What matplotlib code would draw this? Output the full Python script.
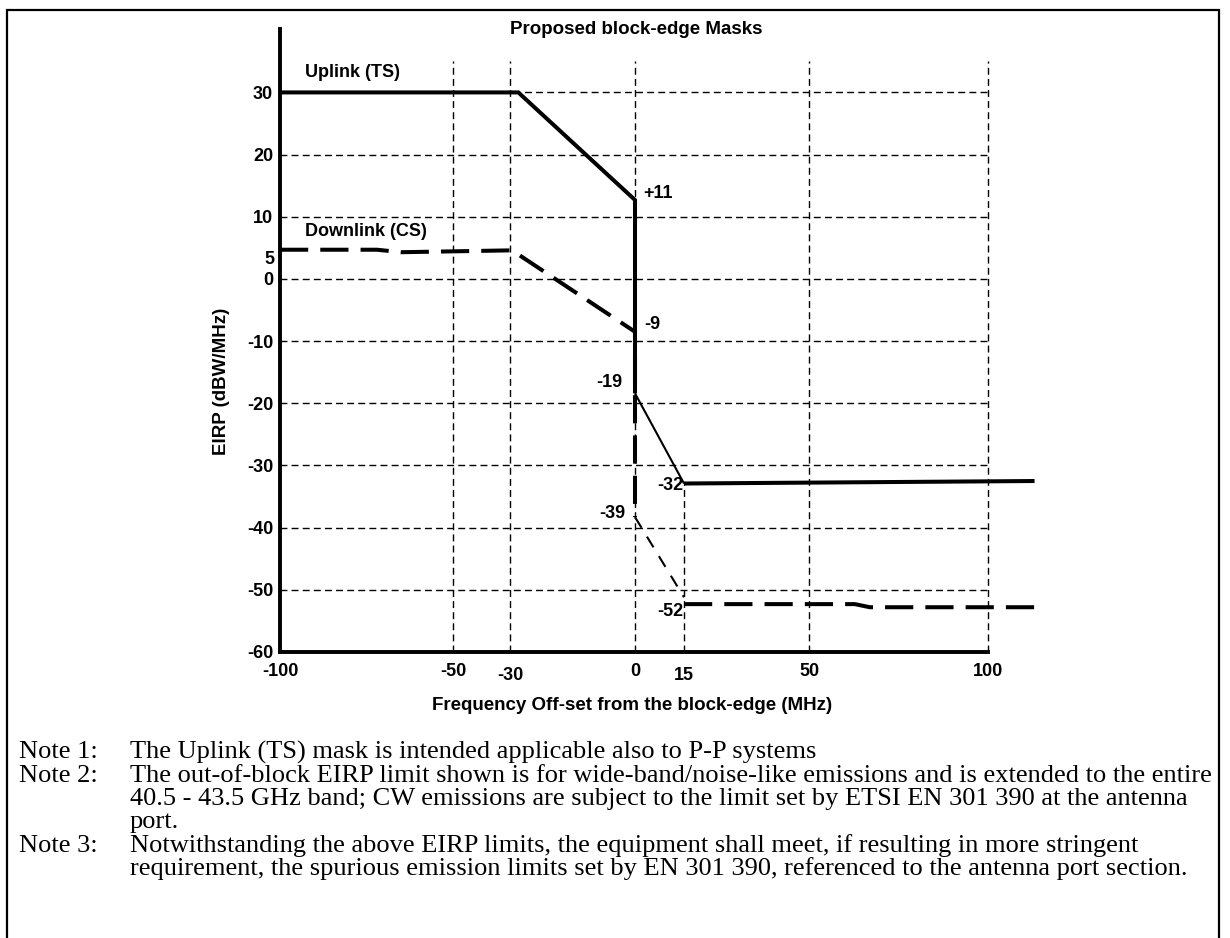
import numpy as np
import matplotlib
matplotlib.use("Agg")
import matplotlib.pyplot as plt
from matplotlib.patches import Rectangle
from matplotlib.transforms import ScaledTranslation

# ---------------- data ----------------
uplink_f = [-100, -28, 0, 0, 15, 113]
uplink_v = [30, 30, 12.7, -18.4, -32.9, -32.5]

downlink_f = [-100, -72, -65, -29.5, 0, 0, 15, 15, 62.8, 67, 113]
downlink_v = [4.7, 4.7, 4.3, 4.6, -8.5, -38.3, -51.2, -52.3, -52.3, -52.8, -52.8]

x_ticks = [-100, -50, -30, 0, 15, 50, 100]
y_ticks = [-60, -50, -40, -30, -20, -10, 0, 10, 20, 30]
v_grid = [-50, -30, 0, 50, 100]
h_grid = [30, 20, 10, 0, -10, -20, -30, -40, -50]

point_labels = ["+11", "-9", "-19", "-32", "-39", "-52", "5"]

title = "Proposed block-edge Masks"
xlabel = "Frequency Off-set from the block-edge (MHz)"
ylabel = "EIRP (dBW/MHz)"
notes = [
    ("Note 1:", "The Uplink (TS) mask is intended applicable also to P-P systems"),
    ("Note 2:", "The out-of-block EIRP limit shown is for wide-band/noise-like emissions and is extended to the entire"),
    ("", "40.5 - 43.5 GHz band; CW emissions are subject to the limit set by ETSI EN 301 390 at the antenna"),
    ("", "port."),
    ("Note 3:", "Notwithstanding the above EIRP limits, the equipment shall meet, if resulting in more stringent"),
    ("", "requirement, the spurious emission limits set by EN 301 390, referenced to the antenna port section."),
]

# ---------------- styles / layout ----------------
SANS = ["Liberation Sans", "DejaVu Sans"]
SERIF = ["Liberation Serif", "DejaVu Serif"]
W, H = 1230, 938
fig = plt.figure(figsize=(W / 100, H / 100), dpi=100)

# non-uniform drawing scale of the original figure (anchor values -> pixel)
_sv = np.array([-1e4, -100, -50, -30, 0, 15, 50, 100, 1e4])
_sp = np.array([280 - 9900 * 3.46, 280, 453, 510, 635, 684, 809, 988, 988 + 9900 * 3.58])
fwd = lambda x: np.interp(x, _sv, _sp)
inv = lambda p: np.interp(p, _sp, _sv)

xmin, xmax = -100, 114
ymin, ymax = -60, 40.2
px_left, px_right = 280, fwd(xmax)
px_top, px_bot = 29, 652
ax = fig.add_axes([px_left / W, (H - px_bot) / H, (px_right - px_left) / W, (px_bot - px_top) / H])
ax.set_xscale("function", functions=(fwd, inv))
ax.set_xlim(xmin, xmax)
ax.set_ylim(ymin, ymax)
ax.patch.set_alpha(0)

for s in ["top", "right"]:
    ax.spines[s].set_visible(False)
ax.spines["left"].set_linewidth(2.8)
ax.spines["bottom"].set_linewidth(2.8)
ax.spines["left"].set_bounds(-60, ymax)
ax.spines["bottom"].set_bounds(-100, 100)

FS = 13
ax.set_xticks(x_ticks)
ax.set_xticklabels([str(t) for t in x_ticks])
ax.set_yticks(y_ticks)
ax.set_yticklabels([str(t) for t in y_ticks])
ax.tick_params(axis="x", length=0, pad=8)
ax.tick_params(axis="y", length=0, pad=5)
for lab in ax.get_xticklabels() + ax.get_yticklabels():
    lab.set_fontfamily(SANS)
    lab.set_fontweight("bold")
    lab.set_fontsize(FS)
for lab in ax.get_xticklabels():
    if lab.get_text() in ("-30", "15"):
        lab.set_transform(lab.get_transform() + ScaledTranslation(0, -4 / 100, fig.dpi_scale_trans))

# grid
gkw = dict(color="black", lw=1.0, linestyle=(0, (5, 3)), zorder=1)
for g in h_grid:
    ax.plot([-100, 100], [g, g], **gkw)
for g in v_grid:
    ax.plot([g, g], [-60, 35], **gkw)
ax.plot([15, 15], [-60, uplink_v[4]], **gkw)

# mask lines
THICK, THIN = 2.9, 1.5
def draw(f, v, styles, dashed):
    i = 0
    n = len(styles)
    while i < n:
        st = styles[i]
        j = i
        while j < n and styles[j] == st:
            j += 1
        if st != "none":
            lw = THICK if st == "thick" else THIN
            kw = dict(color="black", lw=lw, zorder=3, solid_capstyle="butt",
                      solid_joinstyle="miter")
            if dashed:
                kw["linestyle"] = (0, (7, 3)) if st == "thick" else (0, (6, 5))
                kw["dash_capstyle"] = "butt"
            ax.plot(f[i:j + 1], v[i:j + 1], **kw)
        i = j

draw(uplink_f, uplink_v, ["thick", "thick", "thick", "thin", "thick"], False)
draw(downlink_f, downlink_v,
     ["thick", "thick", "thick", "thick", "thick", "thin", "none", "thick", "thick", "thick"], True)

tkw = dict(fontfamily=SANS, fontweight="bold", fontsize=FS, zorder=5)
ax.text(-92.8, 33.2, "Uplink (TS)", ha="left", va="center", **tkw)
ax.text(-92.8, 7.6, "Downlink (CS)", ha="left", va="center", **tkw)
lab_pos = [(2.4, 13.8, "left"), (2.8, -7.4, "left"), (-3.1, -16.6, "right"),
           (14.7, -33.2, "right"), (-2.2, -37.7, "right"), (14.7, -53.5, "right"),
           (-101.5, 3.2, "right")]
for (x, y, ha), s in zip(lab_pos, point_labels):
    ax.text(x, y, s, ha=ha, va="center", **tkw)

# titles
fig.text(636 / W, 1 - 30 / H, title, ha="center", va="center",
         fontfamily=SANS, fontweight="bold", fontsize=13.5)
fig.text(632 / W, 1 - 705 / H, xlabel, ha="center", va="center",
         fontfamily=SANS, fontweight="bold", fontsize=13.5)
fig.text(222 / W, 1 - 381 / H, ylabel, ha="center", va="center", rotation=90,
         fontfamily=SANS, fontweight="bold", fontsize=13.5)

# notes
ys = [752, 776, 799, 822, 846, 869]
for (n, t), y in zip(notes, ys):
    if n:
        fig.text(19 / W, 1 - y / H, n, ha="left", va="center", fontfamily=SERIF, fontsize=19)
    fig.text(130 / W, 1 - y / H, t, ha="left", va="center", fontfamily=SERIF, fontsize=19)

# outer frame
fig.patches.append(Rectangle((7 / W, 1 - 960 / H), (1219 - 7) / W, (960 - 10) / H,
                             transform=fig.transFigure, fill=False, lw=1.6,
                             edgecolor="black"))

fig.savefig("out.png", dpi=100)
